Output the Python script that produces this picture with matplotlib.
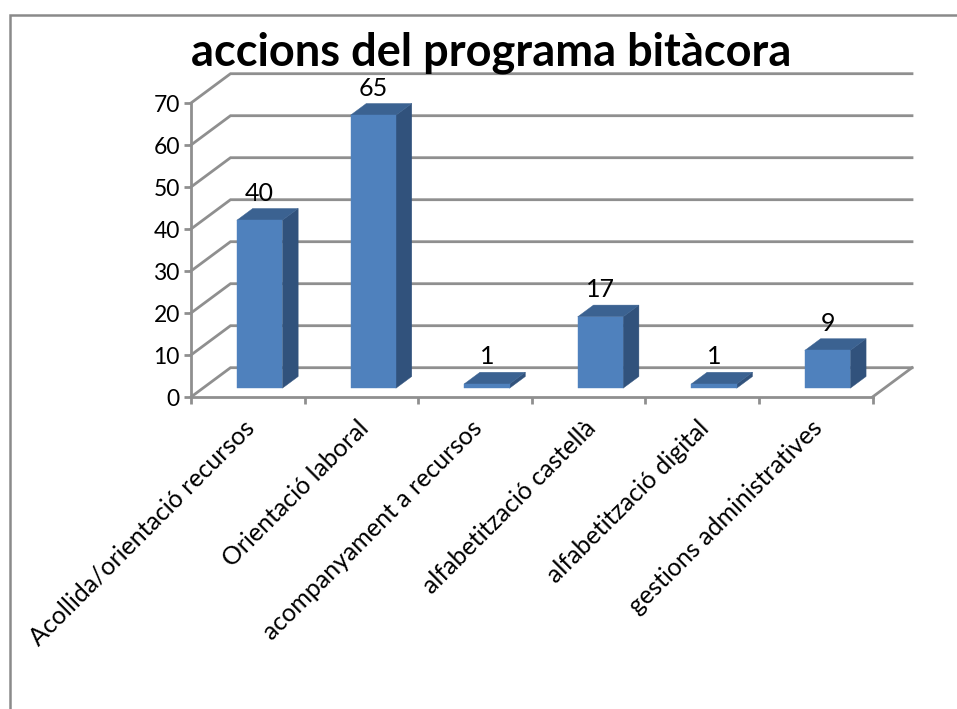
import matplotlib
matplotlib.use("Agg")
import matplotlib.pyplot as plt
from matplotlib.patches import Polygon
from matplotlib.lines import Line2D

categories = ["Acollida/orientació recursos", "Orientació laboral", "acompanyament a recursos",
              "alfabetització castellà", "alfabetització digital", "gestions administratives"]
values = [40, 65, 1, 17, 1, 9]
yticks = [0, 10, 20, 30, 40, 50, 60, 70]
title = "accions del programa bitàcora"

W, H = 957, 709
GRID = "#8f8f8f"
FRONT, SIDE, TOP = "#4f81bd", "#31527c", "#3b6291"
FONT = ["Lato", "DejaVu Sans"]

plt.rcParams["font.family"] = FONT
fig = plt.figure(figsize=(W / 100, H / 100), dpi=100, facecolor="white")

# plot front plane in pixels
L, R, T, B = 191, 872.5, 103, 397
ax = fig.add_axes([L / W, 1 - B / H, (R - L) / W, (B - T) / H])
ax.set_xlim(0, len(categories))
ax.set_ylim(0, 70)
ax.patch.set_visible(False)

# depth vector, in data units per full depth of the chart
DX = 39.5 / ((R - L) / len(categories))
DY = 29.3 / ((B - T) / 70)


def proj(x, y, d):
    return (x + d * DX, y + d * DY)


n = len(categories)
# walls
for t in yticks:
    ax.plot(*zip(proj(0, t, 0), proj(0, t, 1), proj(n, t, 1)), color=GRID, lw=2.0,
            clip_on=False, zorder=1, solid_joinstyle="miter")
ax.plot(*zip(proj(n, 0, 0), proj(n, 0, 1)), color=GRID, lw=2.0, clip_on=False, zorder=1)

# bars
BW = 0.4
D0, D1 = 0.3, 0.7
for i, v in enumerate(values):
    x0, x1 = i + 0.5 - BW / 2, i + 0.5 + BW / 2
    ax.add_patch(Polygon([proj(x1, 0, D0), proj(x1, 0, D1), proj(x1, v, D1), proj(x1, v, D0)],
                         fc=SIDE, ec=SIDE, lw=0.3, clip_on=False, zorder=3))
    ax.add_patch(Polygon([proj(x0, v, D0), proj(x1, v, D0), proj(x1, v, D1), proj(x0, v, D1)],
                         fc=TOP, ec=TOP, lw=0.3, clip_on=False, zorder=3))
    ax.add_patch(Polygon([proj(x0, 0, D0), proj(x1, 0, D0), proj(x1, v, D0), proj(x0, v, D0)],
                         fc=FRONT, ec=FRONT, lw=0.3, clip_on=False, zorder=4))
    ax.annotate(str(v), proj(i + 0.5, v, D0), xytext=(0, 19.5), textcoords="offset points",
                ha="center", va="center", fontsize=18, color="black", zorder=6,
                annotation_clip=False)

# axes
for s in ("top", "right"):
    ax.spines[s].set_visible(False)
for s in ("left", "bottom"):
    ax.spines[s].set_color(GRID)
    ax.spines[s].set_linewidth(2.0)
    ax.spines[s].set_zorder(2)
ax.set_yticks(yticks)
ax.set_xticks(range(n + 1))
ax.set_xticklabels([])
for i, cat in enumerate(categories):
    ax.annotate(cat, (i + 0.5, 0), xytext=(-3.6, -13.7), textcoords="offset points",
                rotation=45, ha="right", va="top", rotation_mode="anchor",
                fontsize=18, color="black", annotation_clip=False)
ax.tick_params(axis="x", which="major", length=5, width=2.0, color=GRID)
ax.tick_params(axis="y", length=5, width=2.0, color=GRID, labelsize=16.5, pad=3)

fig.text(491.5 / W, 1 - 53 / H, title, ha="center", va="center", fontsize=32.5,
         fontweight="bold", color="black", zorder=10)

# outer frame
fig.add_artist(Line2D([10 / W, 10 / W, 1], [0, 1 - 14.5 / H, 1 - 14.5 / H],
                      color="#8a8a8a", lw=1.8, solid_joinstyle="miter"))

fig.savefig("out.png", dpi=100)
